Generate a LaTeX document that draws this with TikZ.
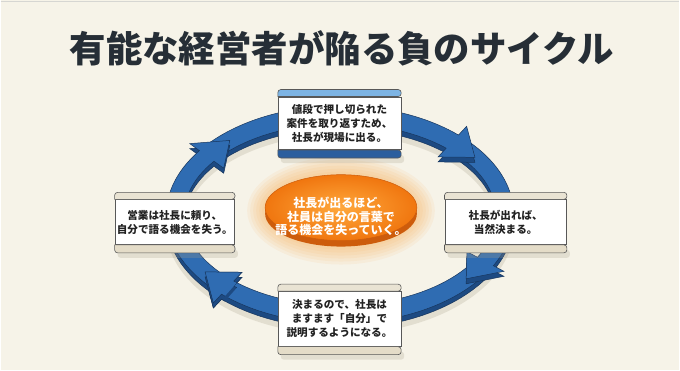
\documentclass[tikz,border=0pt]{standalone}
\usepackage{fontspec}
\setmainfont{Noto Sans CJK JP}
\usetikzlibrary{shapes.geometric,calc}
\definecolor{PageCream}{RGB}{246,243,232}
\definecolor{TopRule}{RGB}{214,214,210}
\definecolor{TitleInk}{RGB}{38,46,54}
\definecolor{CardInk}{RGB}{34,34,34}
\definecolor{CardLine}{RGB}{88,88,88}
\definecolor{CardHead}{RGB}{233,227,211}
\definecolor{CardBase}{RGB}{228,220,200}
\definecolor{TopHead}{RGB}{125,180,228}
\definecolor{TopBase}{RGB}{43,94,158}
\definecolor{RingFace}{RGB}{47,108,178}
\definecolor{RingSide}{RGB}{29,74,130}
\definecolor{RingLine}{RGB}{23,53,92}
\definecolor{RingShadow}{RGB}{170,160,140}
\definecolor{DiscInner}{RGB}{255,168,60}
\definecolor{DiscOuter}{RGB}{240,118,15}
\definecolor{DiscSide}{RGB}{205,92,12}
\definecolor{DiscGlow}{RGB}{255,170,80}
\tikzset{
  titletext/.style={text=TitleInk, font=\fontsize{36.5}{42}\selectfont\bfseries, inner sep=0pt},
  cardbox/.style={draw=CardLine, line width=0.6pt, fill=white, align=center, inner sep=2pt,
    text=CardInk, font=\fontsize{10.6}{14}\selectfont\bfseries},
  coredisc/.style={ellipse, draw=DiscSide, line width=0.5pt, inner sep=0pt,
    minimum width=152, minimum height=66, inner color=DiscInner, outer color=DiscOuter},
  coretext/.style={text=white, align=center, inner sep=0pt,
    font=\fontsize{12}{13.5}\selectfont\bfseries},
  ringface/.style={fill=RingFace, draw=RingLine, line width=0.5pt},
  ringside/.style={fill=RingSide, draw=RingLine, line width=0.5pt},
}
% band of the cycle ring: #1 start angle, #2 tip angle (clockwise)
\newcommand\ringpath[2]{(#1:174 and 109)
  arc[start angle=#1, end angle={#2+12}, x radius=174, y radius=109]
  -- ({#2+12}:186 and 121) -- (#2:165 and 100) -- ({#2+12}:144 and 79)
  -- ({#2+12}:156 and 91)
  arc[start angle={#2+12}, end angle=#1, x radius=156, y radius=91] -- cycle}
\newcommand\headpath[1]{({#1+13.5}:174 and 109)
  arc[start angle={#1+13.5}, end angle={#1+12}, x radius=174, y radius=109]
  -- ({#1+12}:186 and 121) -- (#1:165 and 100) -- ({#1+12}:144 and 79)
  -- ({#1+12}:156 and 91)
  arc[start angle={#1+12}, end angle={#1+13.5}, x radius=156, y radius=91]}
\newcommand\cyclearrow[2]{%
  \filldraw[ringside, yshift=-5] \ringpath{#1}{#2};
  \filldraw[ringface] \ringpath{#1}{#2};}
\newcommand\cyclehead[1]{%
  \fill[RingSide, yshift=-5] \headpath{#1} -- cycle;
  \draw[RingLine, line width=0.5pt, yshift=-5] \headpath{#1};
  \fill[RingFace] \headpath{#1} -- cycle;
  \draw[RingLine, line width=0.5pt] \headpath{#1};}
% header strip, base strip and shadow of a card: #1 node, #2 header, #3 base
\newcommand\cardtrim[3]{%
  \fill[RingShadow, opacity=0.25, rounded corners=3]
    ($(#1.south west)+(3,-13)$) rectangle ($(#1.south east)+(3,-5)$);
  \filldraw[fill=#2, draw=CardLine, line width=0.6pt] (#1.north west)
    [rounded corners=3] -- ++(0,7) -- ($(#1.north east)+(0,7)$) -- (#1.north east)
    [sharp corners] -- cycle;
  \filldraw[fill=#3, draw=CardLine, line width=0.6pt] (#1.south west)
    [rounded corners=3] -- ++(0,-8) -- ($(#1.south east)+(0,-8)$) -- (#1.south east)
    [sharp corners] -- cycle;}

\begin{document}
\begin{tikzpicture}[x=1pt, y=1pt]
  \fill[PageCream] (0,0) rectangle (680,371);
  \draw[TopRule, line width=1.2pt] (0,369.5) -- (680,369.5);

  \node[titletext] (title) at (342,323) {有能な経営者が陥る負のサイクル};

  % ring of four arrows
  \coordinate (ring) at (340,156);
  \begin{scope}[shift={(ring)}]
    \draw[RingShadow, opacity=0.25, line width=20pt] (0,-10) ellipse [x radius=165, y radius=100];
    \cyclearrow{-31}{-145}
    \cyclearrow{44}{-40}
    \cyclearrow{141}{35}
    \cyclearrow{224}{132}
    \cyclehead{-145}
  \end{scope}

  % centre disc
  \coordinate (corec) at (341,163);
  \foreach \g in {18,15,...,3}
    \fill[DiscGlow, opacity=0.09] ($(corec)+(0,-3)$) ellipse [x radius={76+\g}, y radius={36+\g}];
  \fill[DiscSide] ($(corec)+(0,-6)$) ellipse [x radius=76, y radius=33];
  \node[coredisc] (core) at (corec) {};
  \node[coretext] (corelabel) at ($(core)+(0,-9)$) {社長が出るほど、\\社員は自分の言葉で\\語る機会を失っていく。};

  % cards
  \node[cardbox, minimum width=123, minimum height=53] (fieldwork) at (339.5,247.5)
    {値段で押し切られた\\案件を取り返すため、\\社長が現場に出る。};
  \cardtrim{fieldwork}{TopHead}{TopBase}
  \node[cardbox, minimum width=122, minimum height=45] (closing) at (506,148.5)
    {社長が出れば、\\当然決まる。};
  \cardtrim{closing}{CardHead}{CardBase}
  \node[cardbox, minimum width=123, minimum height=55] (explain) at (339.5,51.5)
    {決まるので、社長は\\ますます「自分」で\\説明するようになる。};
  \cardtrim{explain}{CardHead}{CardBase}
  \node[cardbox, minimum width=119, minimum height=45] (reliance) at (174.5,148.5)
    {営業は社長に頼り、\\自分で語る機会を失う。};
  \cardtrim{reliance}{CardHead}{CardBase}
\end{tikzpicture}
\end{document}
